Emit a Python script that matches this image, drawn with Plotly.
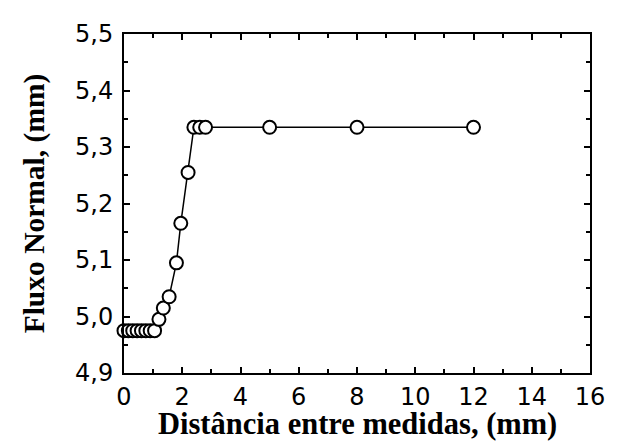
import plotly.graph_objects as go

distancia = [0, 0.15, 0.3, 0.45, 0.6, 0.75, 0.9, 1.05, 1.2, 1.35, 1.55, 1.8, 1.95,
             2.2, 2.4, 2.6, 2.8, 5, 8, 12]
fluxo = [4.975, 4.975, 4.975, 4.975, 4.975, 4.975, 4.975, 4.975, 4.995, 5.015,
         5.035, 5.095, 5.165, 5.255, 5.335, 5.335, 5.335, 5.335, 5.335, 5.335]

x_ticks = [0, 2, 4, 6, 8, 10, 12, 14, 16]
y_ticks = [4.9, 5.0, 5.1, 5.2, 5.3, 5.4, 5.5]

fig = go.Figure()
fig.add_trace(go.Scatter(
    x=distancia, y=fluxo, mode="lines+markers",
    line=dict(color="black", width=1.5),
    marker=dict(symbol="circle", size=13, color="white",
                line=dict(color="black", width=2)),
    cliponaxis=False, showlegend=False,
))

axis_common = dict(
    showline=True, linecolor="black", linewidth=2, mirror="ticks",
    ticks="inside", ticklen=6, tickwidth=1.5, tickcolor="black",
    showgrid=False, zeroline=False, ticklabeloverflow="allow",
    tickfont=dict(family="DejaVu Sans", size=24, color="black"),
)

fig.update_xaxes(
    range=[0, 16], tickvals=x_ticks, ticklabelstandoff=1,
    minor=dict(ticks="inside", ticklen=4, tickwidth=1.5, tickcolor="black", dtick=1, showgrid=False),
    **axis_common,
)
fig.update_yaxes(
    range=[4.9, 5.5001], tickvals=y_ticks, tickformat=".1f", ticklabelstandoff=4,
    minor=dict(ticks="inside", ticklen=4, tickwidth=1.5, tickcolor="black", dtick=0.05, showgrid=False),
    title=dict(text="Fluxo Normal, (mm)", standoff=22,
               font=dict(family="Liberation Serif, Times New Roman", size=29.5,
                         color="black", weight="bold")),
    **axis_common,
)

fig.add_annotation(
    text="Distância entre medidas, (mm)", xref="paper", yref="paper",
    x=0.5, y=0, xanchor="center", yanchor="middle", yshift=-51, showarrow=False,
    font=dict(family="Liberation Serif, Times New Roman", size=30.5,
              color="black", weight="bold"),
)

fig.update_layout(
    width=619, height=441,
    margin=dict(l=116, r=37, t=13, b=76),
    plot_bgcolor="white", paper_bgcolor="white",
    separators=",.",
)

fig.write_html("out.html")
